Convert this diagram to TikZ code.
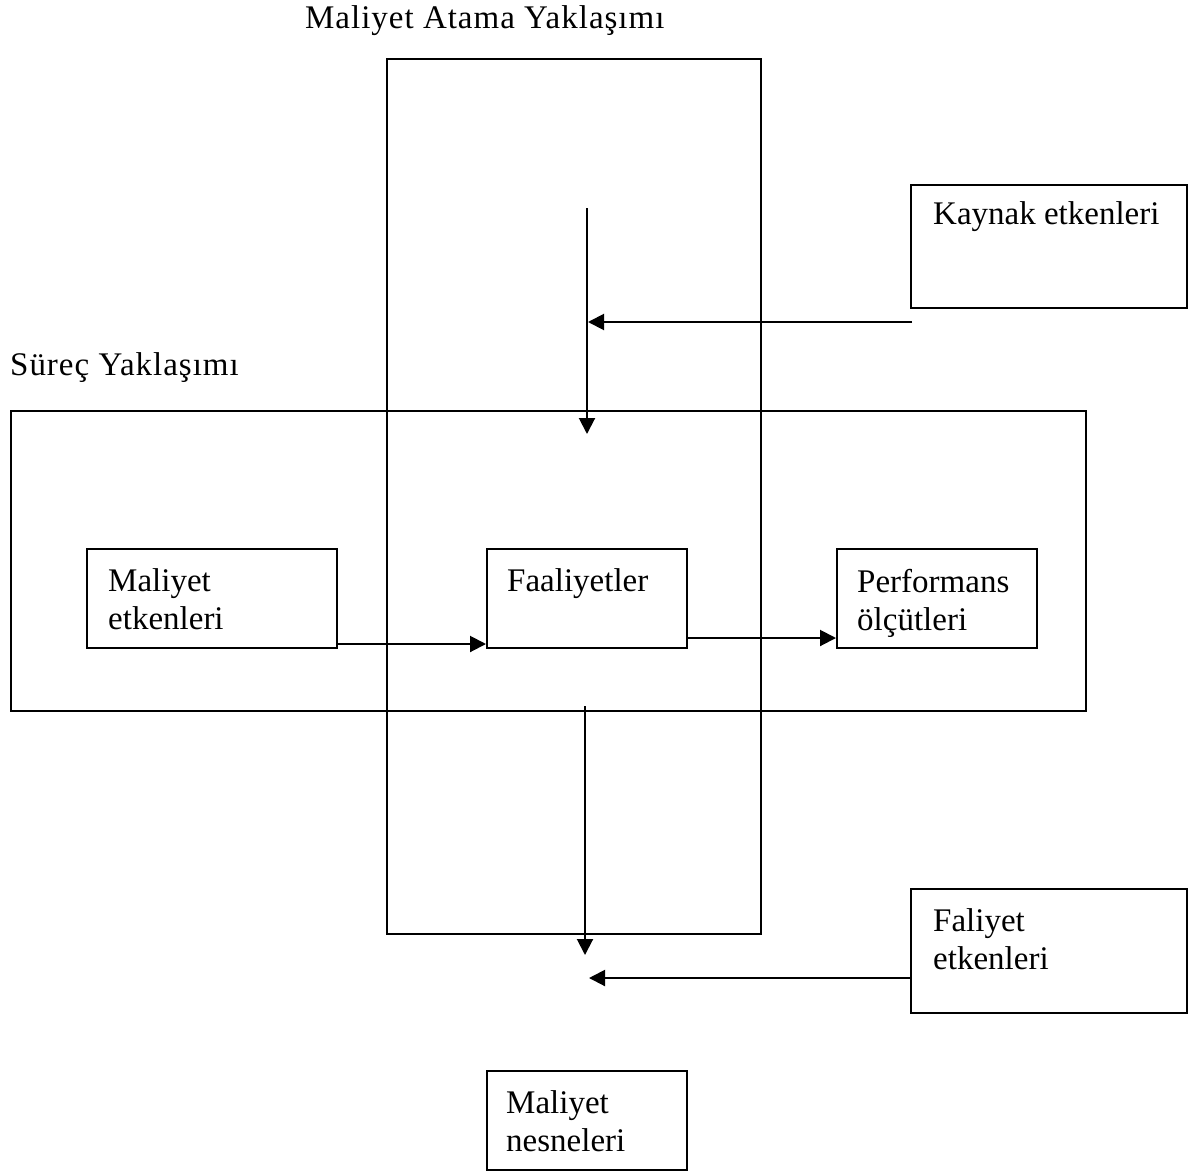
\documentclass[tikz,border=0pt]{standalone}
\usepackage{fontspec}
\setmainfont{Liberation Serif}
\usetikzlibrary{arrows.meta}
\begin{document}
\begin{tikzpicture}[x=1pt,y=-1pt,
  box/.style={draw,line width=2pt,rectangle,inner sep=0pt},
  txt/.style={inner sep=0pt,anchor=base west,font=\fontsize{33}{38}\selectfont},
  ttl/.style={inner sep=0pt,anchor=base west,font=\fontsize{33}{38}\selectfont\addfontfeature{LetterSpace=3}},
  conn/.style={line width=2pt,-{Triangle[length=16pt,width=16pt]}}]
\useasboundingbox (0,0) rectangle (1201,1172);
% large frames
\node[box,minimum width=374pt,minimum height=875pt] (vert) at (574,496.5) {};
\node[box,minimum width=1075pt,minimum height=300pt] (horz) at (548.5,561) {};
% titles
\node[ttl] (t1) at (305,29) {Maliyet Atama Yaklaşımı};
\node[ttl] (t2) at (10,375) {Süreç Yaklaşımı};
% boxes
\node[box,minimum width=276pt,minimum height=123pt] (kay) at (1049,246.5) {};
\node[box,minimum width=276pt,minimum height=124pt] (fal) at (1049,951) {};
\node[box,minimum width=250pt,minimum height=99pt] (me) at (212,598.5) {};
\node[box,minimum width=200pt,minimum height=99pt] (fa) at (587,598.5) {};
\node[box,minimum width=200pt,minimum height=99pt] (pf) at (937,598.5) {};
\node[box,minimum width=200pt,minimum height=99pt] (mn) at (587,1120.5) {};
% texts
\node[txt] (kayt) at (933,224) {Kaynak etkenleri};
\node[txt] (falt1) at (933,931) {Faliyet};
\node[txt] (falt2) at (933,969) {etkenleri};
\node[txt] (met1) at (108,591) {Maliyet};
\node[txt] (met2) at (108,629) {etkenleri};
\node[txt] (fat) at (507,591) {Faaliyetler};
\node[txt] (pft1) at (857,592) {Performans};
\node[txt] (pft2) at (857,630) {ölçütleri};
\node[txt] (mnt1) at (506,1113) {Maliyet};
\node[txt] (mnt2) at (506,1151) {nesneleri};
% connector ends
\coordinate (vtop) at (587,208);
\coordinate (vtip) at (587,434);
\coordinate (k0) at (912,322);
\coordinate (k1) at (588,322);
\coordinate (lvtop) at (585,706);
\coordinate (lvtip) at (585,955);
\coordinate (f0) at (911,978);
\coordinate (f1) at (589,978);
% connectors
\draw[conn] (vtop) -- (vtip);
\draw[conn] (k0) -- (k1);
\draw[conn] ([yshift=5pt]me.south east) -- ([yshift=5pt]fa.south west);
\draw[conn] ([yshift=11pt,xshift=-2pt]fa.south east) -- ([yshift=11pt]pf.south west);
\draw[conn] (lvtop) -- (lvtip);
\draw[conn] (f0) -- (f1);
\end{tikzpicture}
\end{document}
